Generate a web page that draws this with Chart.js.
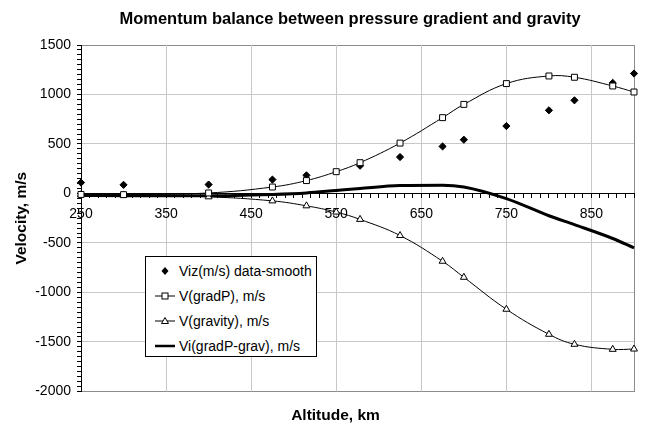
<!DOCTYPE html>
<html>
<head>
<meta charset="utf-8">
<script src="https://cdn.jsdelivr.net/npm/chart.js@4.4.0/dist/chart.umd.min.js"></script>
<style>
  body { margin: 0; background: #fff; }
  #wrap { position: relative; width: 649px; height: 426px; }
  #legend {
    position: absolute; left: 145px; top: 256px; width: 170px; height: 99px;
    border: 1px solid #000; background: #fff;
    font: 14px "Liberation Sans", Arial, sans-serif; color: #000;
  }
  .row { position: absolute; left: 9px; height: 20px; line-height: 20px; white-space: nowrap; }
  .row svg { position: absolute; left: 0; top: 3px; }
  .row span { position: absolute; left: 24px; top: 0; }
</style>
</head>
<body>
<div id="wrap">
  <canvas id="chart" width="649" height="426"></canvas>
  <div id="legend"></div>
</div>
<script>
const chartTitle = 'Momentum balance between pressure gradient and gravity';
const xTitle = 'Altitude, km';
const yTitle = 'Velocity, m/s';
const seriesNames = ['Viz(m/s) data-smooth', 'V(gradP), m/s', 'V(gravity), m/s', 'Vi(gradP-grav), m/s'];

const altitudes = [250, 300, 400, 475, 515, 550, 578, 625, 675, 700, 750, 800, 830, 875, 900];
const vizSmooth = [110, 87, 90, 140, 183, null, 280, 368, 475, 543, 681, 840, 941, 1117, 1212];
const vGradP    = [-10, -12, 5, 65, 130, 220, 311, 509, 766, 900, 1110, 1187, 1174, 1086, 1025];
const vGravity  = [-12, -17, -34, -75, -125, -188, -262, -425, -685, -847, -1170, -1423, -1524, -1575, -1572];
const viNet     = [-20, -22, -24, -10, 5, 30, 50, 80, 84, 66, -52, -225, -315, -455, -550];

const xMajorTicks = [250, 350, 450, 550, 650, 750, 850];
const yMajorTicks = [-2000, -1500, -1000, -500, 0, 500, 1000, 1500];
const xMinorStep = 10;
const yMinorStep = 50;

const FONT = '"Liberation Sans", Arial, sans-serif';
Chart.defaults.font.family = FONT;
Chart.defaults.color = '#000';

function pts(ys) {
  return altitudes.map((x, i) => ({ x: x, y: ys[i] }));
}

function stepTicks(min, max, step) {
  const out = [];
  for (let v = min; v <= max; v += step) out.push({ value: v });
  return out;
}

// frame around plot area + title placement like the original
const framePlugin = {
  id: 'frame',
  beforeDraw(chart) {
    const { ctx, chartArea: a } = chart;
    ctx.save();
    ctx.strokeStyle = '#8c8c8c';
    ctx.lineWidth = 1;
    ctx.strokeRect(Math.round(a.left) + 0.5, Math.round(a.top) + 0.5,
      Math.round(a.right - a.left), Math.round(a.bottom - a.top));
    ctx.restore();
  },
  afterLayout(chart) {
    chart.boxes.forEach(b => {
      if (b === chart.titleBlock) { b.left = 51; b.right = 649; }
      else if (b.options && b.options.text === xTitle) { b.left = 22; b.right = 649; }
    });
  }
};

const ctx = document.getElementById('chart').getContext('2d');
const chart = new Chart(ctx, {
  type: 'line',
  data: {
    datasets: [
      {
        label: seriesNames[1], data: pts(vGradP), clip: 8,
        borderColor: '#000', borderWidth: 1, tension: 0.4,
        pointStyle: 'rect', pointRadius: 4.2, pointBackgroundColor: '#fff',
        pointBorderColor: '#000', pointBorderWidth: 1
      },
      {
        label: seriesNames[2], data: pts(vGravity), clip: 8,
        borderColor: '#000', borderWidth: 1, tension: 0.4,
        pointStyle: 'triangle', pointRadius: 4, pointBackgroundColor: '#fff',
        pointBorderColor: '#000', pointBorderWidth: 1
      },
      {
        label: seriesNames[0], data: pts(vizSmooth), clip: 8,
        showLine: false,
        pointStyle: 'rectRot', pointRadius: 3.6, pointBackgroundColor: '#000',
        pointBorderColor: '#000', pointBorderWidth: 1
      },
      {
        label: seriesNames[3], data: pts(viNet), clip: 8,
        borderColor: '#000', borderWidth: 3, cubicInterpolationMode: 'monotone',
        pointRadius: 0
      }
    ]
  },
  options: {
    responsive: false,
    animation: false,
    devicePixelRatio: 1,
    layout: { padding: { left: 0, right: 15, top: 0, bottom: 0 } },
    plugins: {
      legend: { display: false },
      tooltip: { enabled: false },
      title: {
        display: true, text: chartTitle, color: '#000',
        font: { size: 16.5, weight: 'bold' },
        padding: { top: 10, bottom: 15.2 }
      },
      subtitle: {
        display: true, position: 'bottom', text: xTitle, color: '#000',
        font: { size: 15.5, weight: 'bold' },
        padding: { top: 15, bottom: 1 }
      }
    },
    scales: {
      x: {
        type: 'linear', min: 250, max: 900,
        position: { y: 0 },
        afterBuildTicks: s => { s.ticks = stepTicks(250, 900, xMinorStep); },
        ticks: {
          autoSkip: false, maxRotation: 0, padding: 8,
          font: { size: 14 },
          callback: v => xMajorTicks.includes(v) ? String(v) : ''
        },
        grid: {
          color: c => (c.tick && xMajorTicks.includes(c.tick.value) && c.tick.value !== 250) ? '#c8c8c8' : 'rgba(0,0,0,0)',
          tickColor: '#000', tickLength: 4, tickWidth: 1
        },
        border: { color: '#000', width: 1 }
      },
      y: {
        type: 'linear', min: -2000, max: 1500,
        afterBuildTicks: s => { s.ticks = stepTicks(-2000, 1500, yMinorStep); },
        afterFit: s => { s.width = 81; },
        ticks: {
          autoSkip: false, padding: 6,
          font: { size: 14 },
          callback: v => yMajorTicks.includes(v) ? String(v) : ''
        },
        grid: {
          color: c => (c.tick && yMajorTicks.includes(c.tick.value) && c.tick.value !== -2000 && c.tick.value !== 1500) ? '#c8c8c8' : 'rgba(0,0,0,0)',
          tickColor: '#000', tickLength: 4, tickWidth: 1
        },
        border: { color: '#000', width: 1 },
        title: {
          display: true, text: yTitle, color: '#000',
          font: { size: 15.5, weight: 'bold' },
          padding: { top: 12, bottom: 0 }
        }
      }
    }
  },
  plugins: [framePlugin]
});

// legend box drawn in HTML, entries in the original order
const markers = [
  '<polygon points="10,3 13.5,7 10,11 6.5,7" fill="#000"/>',
  '<line x1="0" y1="7" x2="20" y2="7" stroke="#000" stroke-width="1"/><rect x="7" y="4" width="6" height="6" fill="#fff" stroke="#000"/>',
  '<line x1="0" y1="7" x2="20" y2="7" stroke="#000" stroke-width="1"/><polygon points="10,3.5 13.5,9.5 6.5,9.5" fill="#fff" stroke="#000"/>',
  '<line x1="0" y1="7" x2="20" y2="7" stroke="#000" stroke-width="2.5"/>'
];
const rowCenters = [14, 39, 64, 89];
document.getElementById('legend').innerHTML = seriesNames.map((name, i) =>
  '<div class="row" style="top:' + (rowCenters[i] - 10) + 'px">' +
  '<svg width="22" height="14">' + markers[i] + '</svg><span>' + name + '</span></div>'
).join('');
</script>
</body>
</html>
